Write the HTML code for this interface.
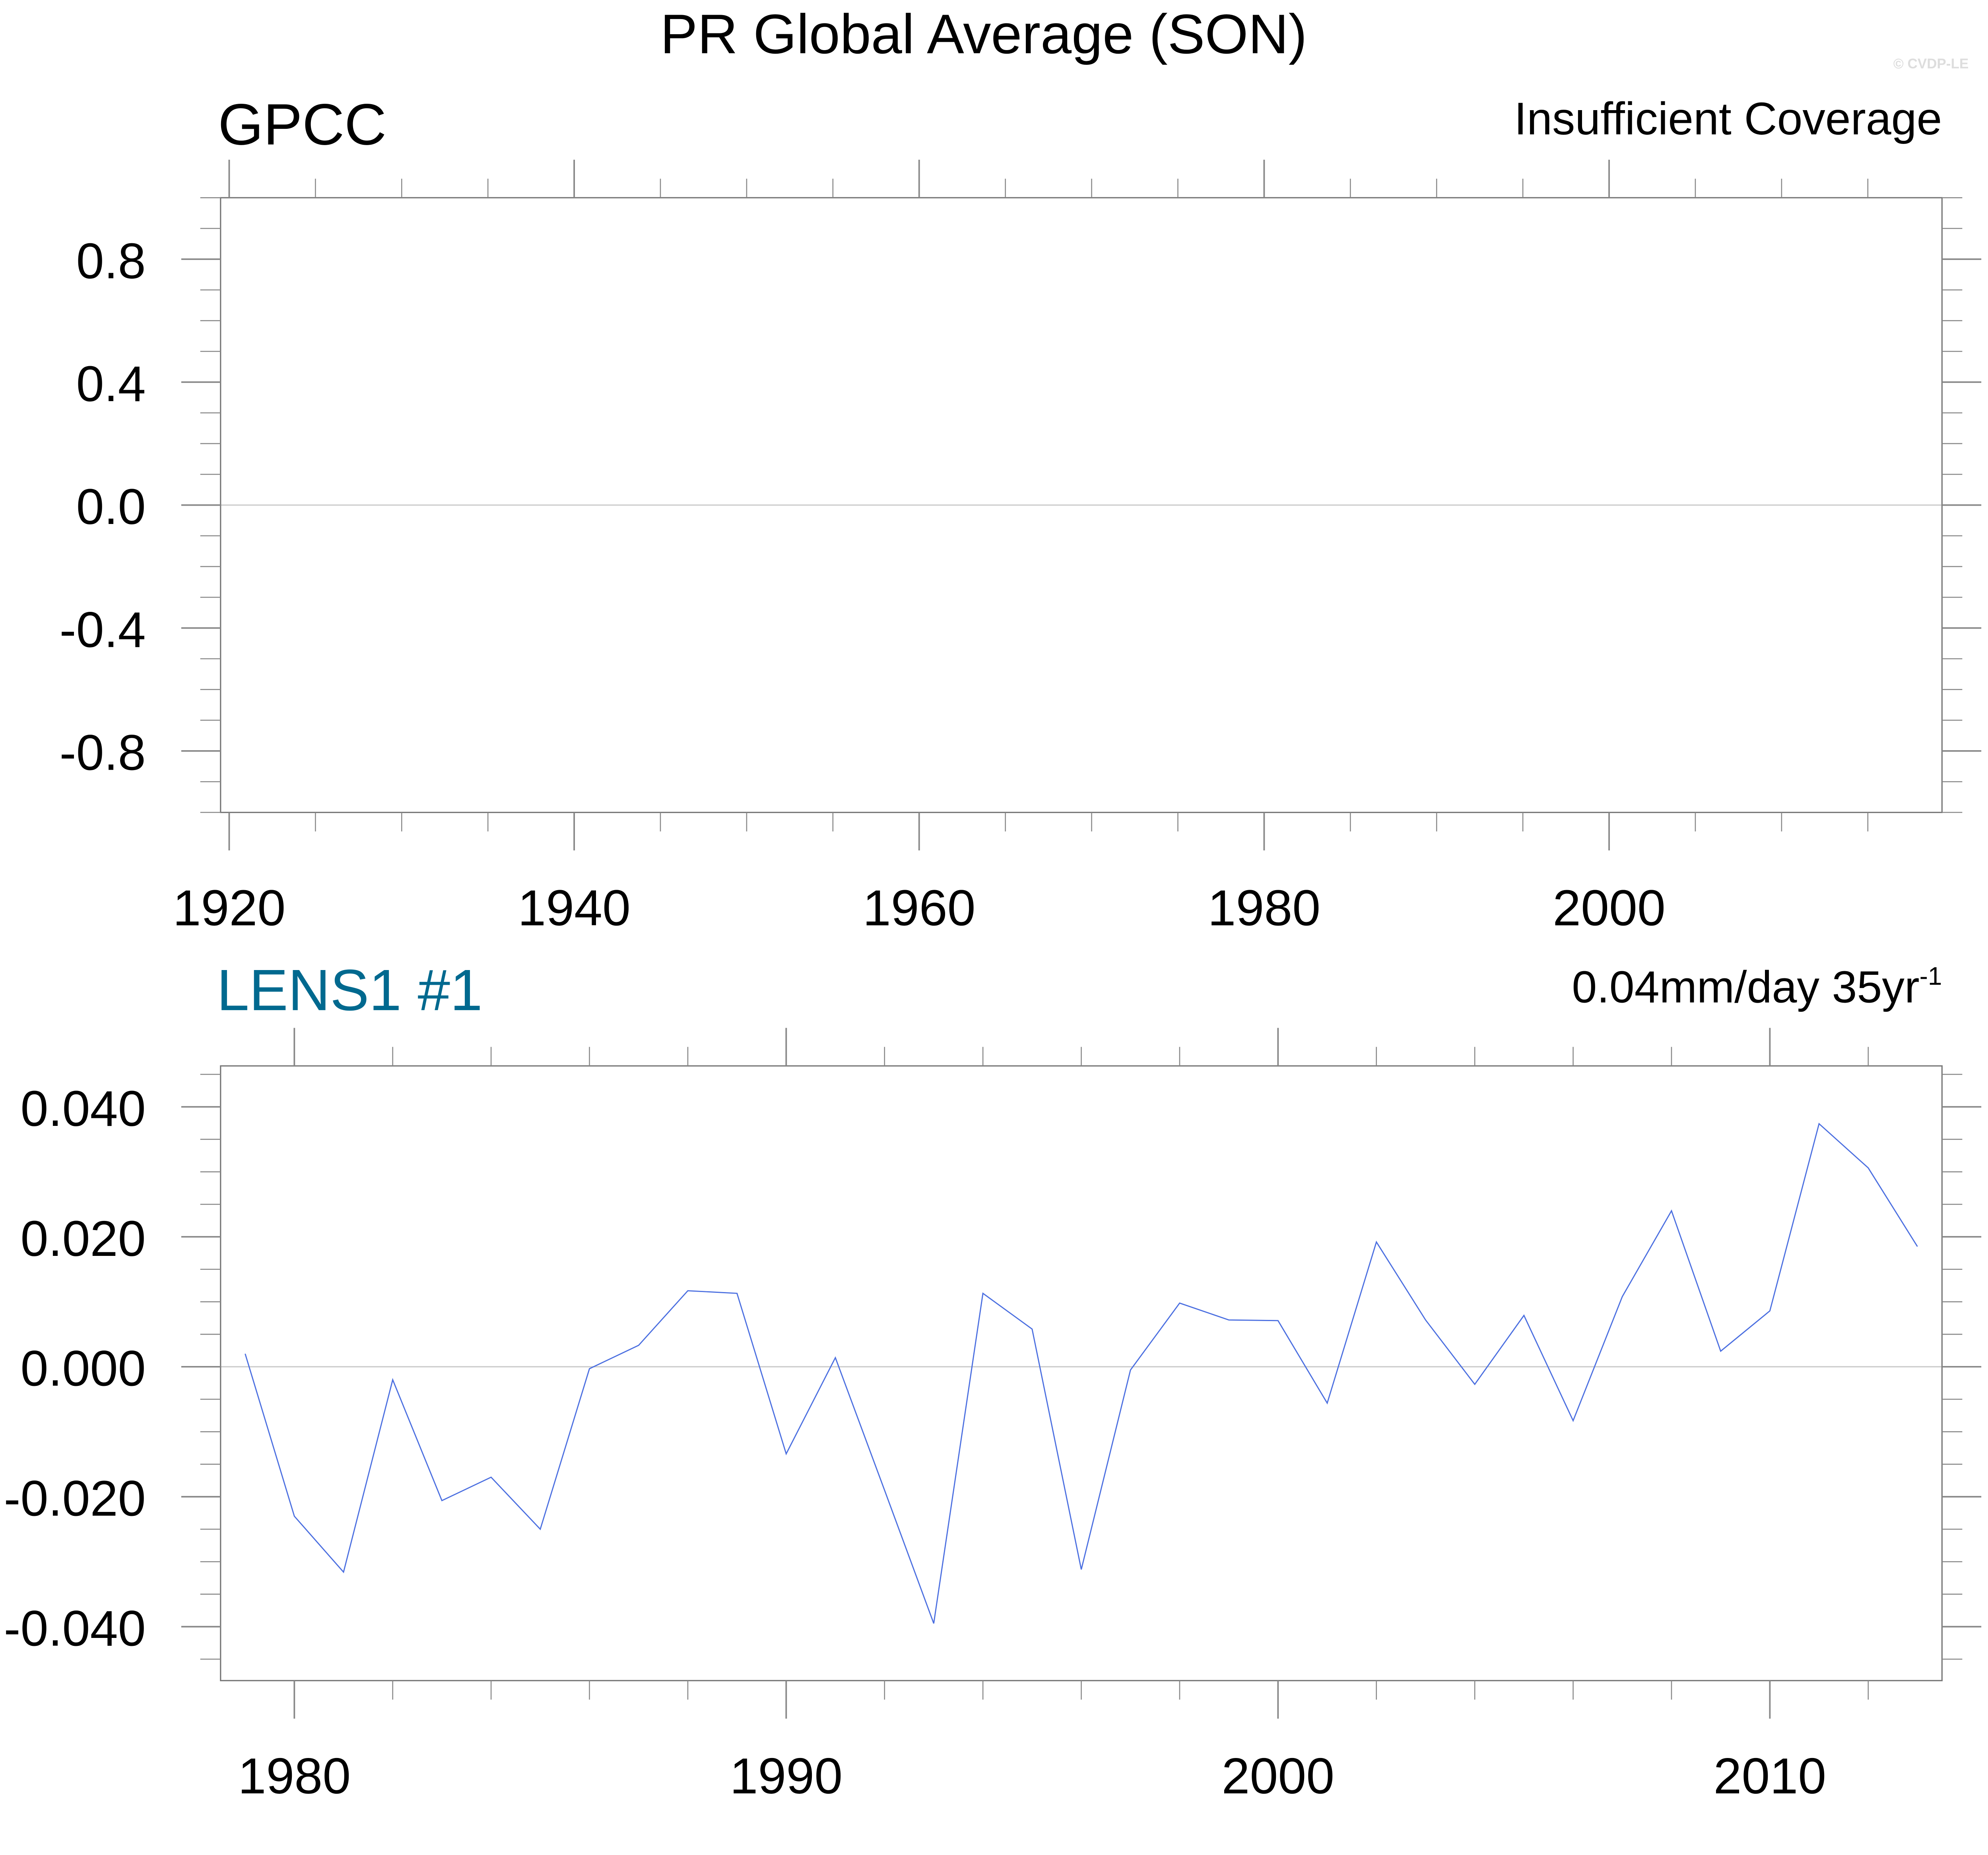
<!DOCTYPE html>
<html><head><meta charset="utf-8"><style>html,body{margin:0;padding:0;background:#fff;overflow:hidden}svg{display:block}text{font-family:"Liberation Sans",Arial,sans-serif}</style></head>
<body>
<svg id="chart" xmlns="http://www.w3.org/2000/svg" width="5133" height="4666" viewBox="0 0 1610 1463.6" preserveAspectRatio="none">
<text x="776" y="42" font-size="44" text-anchor="middle">PR Global Average (SON)</text>
<text x="1553" y="54" font-size="11" font-weight="bold" fill="#ddd" text-anchor="end">© CVDP-LE</text>
<text x="172" y="114" font-size="46">GPCC</text>
<text x="1532" y="106" font-size="36" text-anchor="end">Insufficient Coverage</text>
<text x="171" y="797" font-size="46" fill="#00698f">LENS1 #1</text>
<text x="1532" y="791" font-size="35.5" text-anchor="end">0.04mm/day 35yr<tspan dy="-14" font-size="20">-1</tspan></text>
<g id="topPanel"></g>
<g id="botPanel"></g>
</svg>
<script>
const years = [1979,1980,1981,1982,1983,1984,1985,1986,1987,1988,1989,1990,1991,1992,1993,1994,1995,1996,1997,1998,1999,2000,2001,2002,2003,2004,2005,2006,2007,2008,2009,2010,2011,2012,2013];
const lensValues = [0.002,-0.023,-0.0316,-0.002,-0.0206,-0.017,-0.025,-0.0003,0.0033,0.0117,0.0113,-0.0134,0.0014,-0.019,-0.0395,0.0113,0.0058,-0.0312,-0.0005,0.0098,0.0072,0.0071,-0.0056,0.0192,0.0072,-0.0027,0.0079,-0.0083,0.0108,0.0240,0.0024,0.0086,0.0374,0.0306,0.0185];
const topXTicks = [1920,1940,1960,1980,2000];
const topYTicks = [-0.8,-0.4,0.0,0.4,0.8];
const topYLabels = ["-0.8","-0.4","0.0","0.4","0.8"];
const botXTicks = [1980,1990,2000,2010];
const botYTicks = [-0.04,-0.02,0,0.02,0.04];
const botYLabels = ["-0.040","-0.020","0.000","0.020","0.040"];
const NS="http://www.w3.org/2000/svg";
function mk(parent,tag,attrs){const e=document.createElementNS(NS,tag);for(const k in attrs)e.setAttribute(k,attrs[k]);parent.appendChild(e);return e;}
function panel(g,box,xd,yd,xMajor,xMinorStep,yMajor,yLabels,yMinorStep,prefix){
  const L=box[0],T=box[1],R=box[2],B=box[3];
  const sx=v=>L+(v-xd[0])/(xd[1]-xd[0])*(R-L);
  const sy=v=>B-(v-yd[0])/(yd[1]-yd[0])*(B-T);
  const z=mk(g,'line',{x1:L,x2:R,y1:sy(0),y2:sy(0),stroke:'#ccc','stroke-width':1});
  
  
  const fr=mk(g,'rect',{x:L,y:T,width:R-L,height:B-T,fill:'none',stroke:'#777','stroke-width':1});
  
  
  const xi0=Math.ceil(xd[0]/xMinorStep);
  for(let i=xi0;i*xMinorStep<=xd[1]+1e-9;i++){const v=i*xMinorStep;const x=sx(v);const maj=xMajor.some(m=>Math.abs(m-v)<1e-6);const len=maj?30:15;
    const t1=mk(g,'line',{x1:x,x2:x,y1:T-len,y2:T,stroke:'#888','stroke-width':maj?1.2:0.8});
    
    
    const t2=mk(g,'line',{x1:x,x2:x,y1:B,y2:B+len,stroke:'#888','stroke-width':maj?1.2:0.8});
    
    }
  xMajor.forEach(v=>{const t=mk(g,'text',{x:sx(v),y:B+89,'font-size':40,'text-anchor':'middle'});t.textContent=String(v);
    
    });
  const yi0=Math.ceil((yd[0]-1e-9)/yMinorStep);
  for(let i=yi0;i*yMinorStep<=yd[1]+1e-9;i++){const v=i*yMinorStep;const y=sy(v);if(y<T-0.5||y>B+0.5)continue;const maj=yMajor.some(m=>Math.abs(m-v)<1e-9);const len=maj?31:16;
    const a=mk(g,'line',{x1:L-len,x2:L,y1:y,y2:y,stroke:'#888','stroke-width':maj?1.2:0.8});
    
    
    const b=mk(g,'line',{x1:R,x2:R+len,y1:y,y2:y,stroke:'#888','stroke-width':maj?1.2:0.8});
    
    }
  yMajor.forEach((v,i)=>{const t=mk(g,'text',{x:L-59,y:sy(v)+15,'font-size':39.5,'text-anchor':'end'});t.textContent=yLabels[i];
    
    });
  return {sx:sx,sy:sy};
}
const topG=document.getElementById('topPanel');
panel(topG,[174,156,1532,641],[1919.5,2019.3],[-1,1],topXTicks,5,topYTicks,topYLabels,0.1,'top');
const botG=document.getElementById('botPanel');
const sc=panel(botG,[174,841,1532,1326],[1978.5,2013.5],[-0.0483,0.0463],botXTicks,2,botYTicks,botYLabels,0.005,'bottom');
const pts=years.map((y,i)=>sc.sx(y).toFixed(2)+','+sc.sy(lensValues[i]).toFixed(2)).join(' ');
const pl=mk(botG,'polyline',{points:pts,fill:'none',stroke:'#4a6ee0','stroke-width':0.9});


</script>
</body></html>
